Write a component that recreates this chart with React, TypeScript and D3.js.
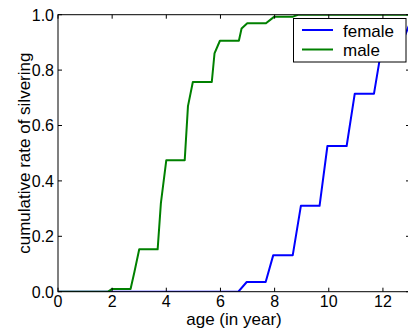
import React from "react";
import * as d3 from "d3";

const femaleAge = [0, 6.66, 6.97, 7.67, 7.95, 8.67, 8.97, 9.66, 9.95, 10.66, 10.96, 11.67, 11.97, 12.67, 13.0];
const femaleRate = [0, 0, 0.035, 0.035, 0.132, 0.132, 0.31, 0.31, 0.526, 0.526, 0.715, 0.715, 0.89, 0.89, 0.97];

const maleAge = [0, 1.85, 2.0, 2.68, 2.82, 3.0, 3.68, 3.8, 4.0, 4.68, 4.8, 4.98, 5.68, 5.78, 5.98, 6.68, 6.78, 6.99, 7.68, 7.99, 8.68, 8.86, 13.0];
const maleRate = [0, 0, 0.01, 0.01, 0.07, 0.153, 0.153, 0.32, 0.475, 0.475, 0.67, 0.757, 0.757, 0.86, 0.906, 0.906, 0.95, 0.969, 0.969, 0.993, 0.993, 1.0, 1.0];

const xTicks = [0, 2, 4, 6, 8, 10, 12];
const yTicks = [0, 0.2, 0.4, 0.6, 0.8, 1.0];
const seriesNames = ["female", "male"];
const seriesColors = ["#0000ff", "#008000"];

const W = 408;
const H = 335;
const left = 58;
const right = 410;
const top = 14.7;
const bottom = 291.7;
const FONT = "'Liberation Sans', Arial, sans-serif";

export default function App() {
  const x = d3.scaleLinear().domain([0, 13]).range([left, right]);
  const y = d3.scaleLinear().domain([0, 1]).range([bottom, top]);
  const line = d3
    .line<[number, number]>()
    .x((d) => x(d[0]))
    .y((d) => y(d[1]));
  const female: [number, number][] = femaleAge.map((a, i) => [a, femaleRate[i]]);
  const male: [number, number][] = maleAge.map((a, i) => [a, maleRate[i]]);
  const series = [female, male];
  const tl = 4;

  return (
    <svg
      width={W}
      height={H}
      style={{ position: "absolute", left: 0, top: 0, background: "#fff" }}
      fontFamily={FONT}
    >
      <rect x={0} y={0} width={W} height={H} fill="#fff" />
      <defs>
        <clipPath id="plotclip">
          <rect x={left} y={top} width={right - left} height={bottom - top} />
        </clipPath>
      </defs>
      <g clipPath="url(#plotclip)">
        {series.map((s, i) => (
          <path
            key={i}
            d={line(s) || ""}
            fill="none"
            stroke={seriesColors[i]}
            strokeWidth={2}
            strokeLinejoin="round"
          />
        ))}
      </g>
      {/* frame */}
      <rect x={left} y={top} width={right - left} height={bottom - top} fill="none" stroke="#000" strokeWidth={1} />
      {/* x ticks */}
      {xTicks.map((t) => (
        <g key={"x" + t}>
          <line x1={x(t)} x2={x(t)} y1={bottom} y2={bottom - tl} stroke="#000" />
          <line x1={x(t)} x2={x(t)} y1={top} y2={top + tl} stroke="#000" />
          <text x={x(t)} y={307} textAnchor="middle" fontSize={16} fill="#000">
            {t}
          </text>
        </g>
      ))}
      {yTicks.map((t) => (
        <g key={"y" + t}>
          <line x1={left} x2={left + tl} y1={y(t)} y2={y(t)} stroke="#000" />
          <line x1={right} x2={right - tl} y1={y(t)} y2={y(t)} stroke="#000" />
          <text x={54} y={y(t) + 5.8} textAnchor="end" fontSize={16} fill="#000">
            {t.toFixed(1)}
          </text>
        </g>
      ))}
      <text x={(left + right) / 2} y={325} textAnchor="middle" fontSize={17} fill="#000">
        age (in year)
      </text>
      <text
        transform={`translate(30, ${(top + bottom) / 2}) rotate(-90)`}
        textAnchor="middle"
        fontSize={17}
        fill="#000"
      >
        cumulative rate of silvering
      </text>
      {/* legend */}
      <rect x={293.5} y={18.5} width={112.5} height={43.5} fill="#fff" stroke="#000" strokeWidth={1} />
      {seriesNames.map((n, i) => (
        <g key={n}>
          <line x1={302} x2={333} y1={30 + i * 19.5} y2={30 + i * 19.5} stroke={seriesColors[i]} strokeWidth={2} />
          <text x={343} y={36.5 + i * 19.5} fontSize={17} fill="#000">
            {n}
          </text>
        </g>
      ))}
    </svg>
  );
}
